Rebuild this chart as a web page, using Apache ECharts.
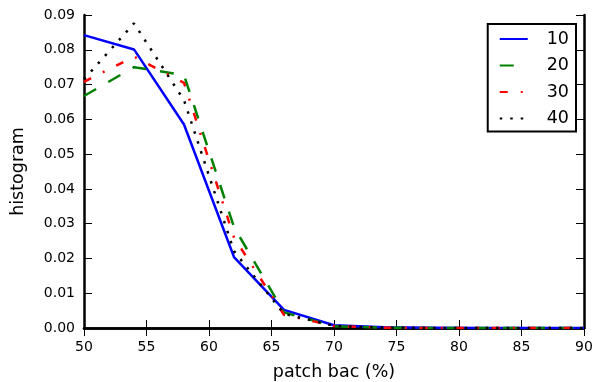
<!DOCTYPE html>
<html>
<head>
<meta charset="utf-8">
<script src="https://cdn.jsdelivr.net/npm/echarts@6/dist/echarts.min.js"></script>
<style>html,body{margin:0;padding:0;background:#fff}#c{width:595px;height:382px}</style>
</head>
<body>
<div id="c"></div>
<script>
const xValues = [50, 54, 58, 62, 66, 70, 74, 78, 82, 86, 90];
const s10 = [0.0842, 0.0801, 0.0585, 0.0204, 0.0052, 0.0008, 0.0002, 0.0001, 0.0000, 0.0000, 0.0000];
const s20 = [0.0667, 0.0750, 0.0727, 0.0290, 0.0045, 0.0005, 0.0001, 0.0000, 0.0000, 0.0000, 0.0000];
const s30 = [0.0708, 0.0780, 0.0705, 0.0260, 0.0038, 0.0006, 0.0001, 0.0000, 0.0000, 0.0000, 0.0000];
const s40 = [0.0715, 0.0876, 0.0655, 0.0221, 0.0041, 0.0006, 0.0001, 0.0000, 0.0000, 0.0000, 0.0000];
const seriesNames = ['10', '20', '30', '40'];
const xTicks = [50, 55, 60, 65, 70, 75, 80, 85, 90];
const yTicks = [0.00, 0.01, 0.02, 0.03, 0.04, 0.05, 0.06, 0.07, 0.08, 0.09];

const FONT = 'DejaVu Sans';
const chart = echarts.init(document.getElementById('c'), null, {renderer: 'canvas'});
const pair = arr => xValues.map((x, i) => [x, arr[i]]);
const styles = [
  {color: '#0000ff', type: 'solid'},
  {color: '#008000', type: [14, 14]},
  {color: '#ff0000', type: [8, 13, 2, 13]},
  {color: '#000000', type: [2.5, 8]}
];
const allData = [s10, s20, s30, s40];

const axisLine = {show: true, lineStyle: {color: '#000', width: 2.5}};
const tick = {show: true, inside: true, length: 8, lineStyle: {color: '#000', width: 1}};

chart.setOption({
  animation: false,
  backgroundColor: '#fff',
  grid: {left: 84, right: 11, top: 15, bottom: 54, containLabel: false, outerBoundsMode: 'none'},
  xAxis: [{
    type: 'value', min: xTicks[0], max: xTicks[xTicks.length - 1], interval: 5,
    position: 'bottom',
    axisLine: axisLine, axisTick: tick, splitLine: {show: false},
    axisLabel: {color: '#000', fontFamily: FONT, fontSize: 14, margin: 12},
    name: 'patch bac (%)', nameLocation: 'middle', nameGap: 35,
    nameTextStyle: {color: '#000', fontFamily: FONT, fontSize: 17.5}
  }, {
    type: 'value', min: xTicks[0], max: xTicks[xTicks.length - 1], interval: 5,
    position: 'top',
    axisLine: axisLine, axisTick: tick, splitLine: {show: false},
    axisLabel: {show: false}
  }],
  yAxis: [{
    type: 'value', min: yTicks[0], max: yTicks[yTicks.length - 1], interval: 0.01,
    position: 'left',
    axisLine: axisLine, axisTick: tick, splitLine: {show: false},
    axisLabel: {color: '#000', fontFamily: FONT, fontSize: 14, margin: 9,
      formatter: v => v.toFixed(2)},
    name: 'histogram', nameLocation: 'middle', nameGap: 57,
    nameTextStyle: {color: '#000', fontFamily: FONT, fontSize: 17.5}
  }, {
    type: 'value', min: yTicks[0], max: yTicks[yTicks.length - 1], interval: 0.01,
    position: 'right',
    axisLine: axisLine, axisTick: tick, splitLine: {show: false},
    axisLabel: {show: false}
  }],
  legend: {
    orient: 'vertical', right: 19, top: 24,
    data: seriesNames,
    itemWidth: 28, itemHeight: 14, itemGap: 6.5,
    padding: [5, 7, 3, 11],
    borderColor: '#000', borderWidth: 2, borderRadius: 0,
    backgroundColor: '#fff',
    textStyle: {color: '#000', fontFamily: FONT, fontSize: 17.5, lineHeight: 20, padding: [0, 0, 0, 14]}
  },
  series: seriesNames.map((n, i) => ({
    name: n, type: 'line', xAxisIndex: 0, yAxisIndex: 0,
    data: pair(allData[i]),
    showSymbol: false, symbol: 'none',
    color: styles[i].color,
    itemStyle: {color: styles[i].color, opacity: 0},
    lineStyle: {color: styles[i].color, width: 2.5, type: styles[i].type},
    z: 2 + i
  }))
});
</script>
</body>
</html>
